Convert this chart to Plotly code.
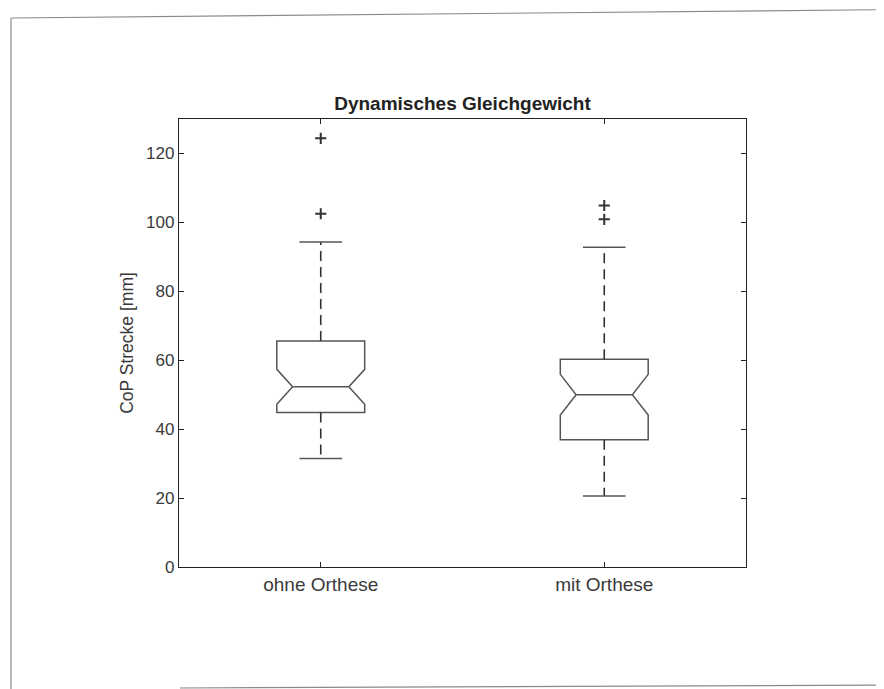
import plotly.graph_objects as go

# ---- data ----
categories = ["ohne Orthese", "mit Orthese"]
positions = [1, 2]
q1 = [44.8, 36.9]
median = [52.3, 50.0]
q3 = [65.6, 60.3]
lower_whisker = [31.5, 20.6]
upper_whisker = [94.3, 92.8]
notch_span = [5.05, 5.9]
outliers = [[124.4, 102.5], [104.9, 100.9]]
y_ticks = [0, 20, 40, 60, 80, 100, 120]

# ---- style ----
FONT = "Liberation Sans, Arial, sans-serif"
BOX_COLOR = "#555555"
WHISK_COLOR = "#333333"
AXIS_COLOR = "#222222"
TEXT_COLOR = "#3a3a3a"
BOX_W = 0.31
CAP_HALF = 0.075

fig = go.Figure()

for i, cat in enumerate(categories):
    p = positions[i]
    # box with notch (whiskers drawn separately, dashed)
    fig.add_trace(go.Box(
        x=[p], q1=[q1[i]], median=[median[i]], q3=[q3[i]],
        lowerfence=[q1[i]], upperfence=[q3[i]],
        notchspan=[notch_span[i]], notched=True, notchwidth=0.18,
        width=BOX_W, whiskerwidth=0,
        line=dict(color=BOX_COLOR, width=1.5),
        fillcolor="rgba(0,0,0,0)", boxpoints=False,
        name=cat, showlegend=False, hoverinfo="skip",
    ))
    # dashed whiskers
    for a, b in ((q3[i], upper_whisker[i]), (q1[i], lower_whisker[i])):
        fig.add_trace(go.Scatter(
            x=[p, p], y=[a, b], mode="lines",
            line=dict(color=WHISK_COLOR, width=1.6, dash="10px,6px"),
            showlegend=False, hoverinfo="skip",
        ))
    # whisker caps
    for v in (upper_whisker[i], lower_whisker[i]):
        fig.add_trace(go.Scatter(
            x=[p - CAP_HALF, p + CAP_HALF], y=[v, v], mode="lines",
            line=dict(color=BOX_COLOR, width=1.5),
            showlegend=False, hoverinfo="skip",
        ))
    # outliers
    fig.add_trace(go.Scatter(
        x=[p] * len(outliers[i]), y=outliers[i], mode="markers",
        marker=dict(symbol="cross-thin", size=8,
                    line=dict(color=WHISK_COLOR, width=2)),
        showlegend=False, hoverinfo="skip",
    ))

# scanned page frame (positions given in screen pixels, relative to plot area)
frame = dict(type="line", xref="paper", yref="paper",
             line=dict(color="#8a8a8a", width=1.2))
def px_x(v):
    return (v - 179) / 567
def px_y(v):
    return (567 - v) / 448
fig.add_shape(**frame, x0=px_x(11), y0=px_y(18), x1=px_x(11), y1=px_y(700))
fig.add_shape(**frame, x0=px_x(11), y0=px_y(18), x1=px_x(900), y1=px_y(9.5))
fig.add_shape(**frame, x0=px_x(180), y0=px_y(688), x1=px_x(900), y1=px_y(685))

fig.update_layout(
    width=884, height=689,
    margin=dict(l=171, r=146, t=111, b=130),
    paper_bgcolor="white", plot_bgcolor="white",
    font=dict(family=FONT, color=TEXT_COLOR, size=17),
    title=dict(text="<b>Dynamisches Gleichgewicht</b>",
               font=dict(family=FONT, size=19, color="#222222"),
               x=0.5, xref="paper", y=1 - 95 / 689, yref="container",
               xanchor="center", yanchor="middle"),
    showlegend=False,
)
fig.update_xaxes(
    range=[0.5, 2.5], tickmode="array", tickvals=positions, ticktext=categories,
    showline=True, linecolor=AXIS_COLOR, linewidth=1.3, mirror="allticks",
    ticks="inside", ticklen=5, tickcolor=AXIS_COLOR,
    showgrid=False, zeroline=False,
    tickfont=dict(size=19, color=TEXT_COLOR),
)
fig.update_yaxes(
    range=[0, 130], tickmode="array", tickvals=y_ticks,
    showline=True, linecolor=AXIS_COLOR, linewidth=1.3, mirror="allticks",
    ticks="inside", ticklen=5, tickcolor=AXIS_COLOR,
    showgrid=False, zeroline=False,
    tickfont=dict(size=17, color=TEXT_COLOR),
    title=dict(text="CoP Strecke [mm]", standoff=7,
               font=dict(size=17.5, color=TEXT_COLOR)),
)

fig.write_html("out.html")
